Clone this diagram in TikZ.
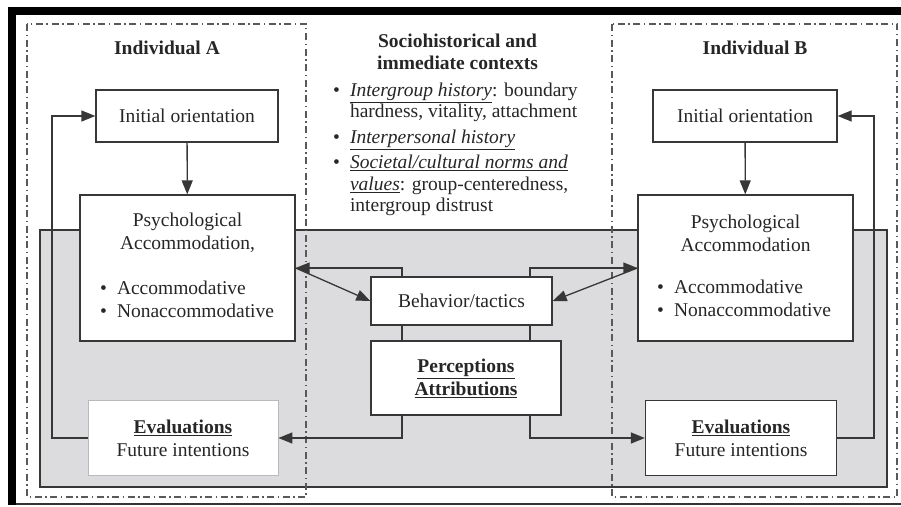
\documentclass[tikz,border=0pt]{standalone}
\usepackage{fontspec}
\setmainfont{Liberation Serif}
\usepackage{tikz}
\usetikzlibrary{positioning, arrows.meta}
\definecolor{panelgray}{RGB}{220,220,222}
\definecolor{linegray}{RGB}{55,55,55}
\newcommand{\heading}[1]{\underline{\textbf{#1}}}

\begin{document}
\begin{tikzpicture}[
				x=1pt, y=-1pt,
				>={Triangle[length=14pt,width=11pt]},
				node distance=558pt,
				font=\fontsize{19.5}{23}\selectfont,
				every node/.style={inner sep=0pt, text=black!85},
				box/.style={draw=linegray, line width=1.3pt, fill=white},
				person/.style={draw=black!65, line width=1.3pt, dash pattern=on 7pt off 3.5pt on 1.5pt off 3.5pt},
				link/.style={draw=linegray, line width=1.3pt}]

			% frame
			\useasboundingbox (0,0) rectangle (901,506);
			\fill[white] (0,0) rectangle (901,506);
			\fill[black] (8,7) rectangle (901,15);
			\fill[black] (8,7) rectangle (16,505);
			\draw[line width=2pt, black!80] (16,503.5) -- (901,503.5);

			% shared panel and the two individuals
			\draw[linegray, line width=1.3pt, fill=panelgray] (40,230) rectangle (887,487);
			\draw[person] (27,24) rectangle (306,497);
			\draw[person] (612,24) rectangle (897,497);

			\node[font=\fontsize{19.5}{23}\selectfont\bfseries] (title_a) at (167,48) {Individual A};
			\node[font=\fontsize{19.5}{23}\selectfont\bfseries] (title_b) at (755,48) {Individual B};
			\node[font=\fontsize{19.5}{22}\selectfont\bfseries, align=center] (context_title) at (457.5,52) {Sociohistorical and\\immediate contexts};
			\node[anchor=north west, font=\fontsize{19.5}{21.5}\selectfont] (context_list) at (333,81) {%
				\begin{tabular}{@{}l@{\hspace{10pt}}l@{}}
					\textbullet & \underline{\textit{Intergroup history}}: boundary\\
					& hardness, vitality, attachment\\[4pt]
					\textbullet & \underline{\textit{Interpersonal history}}\\[4pt]
					\textbullet & \underline{\textit{Societal/cultural norms and}}\\
					& \underline{\textit{values}}: group-centeredness,\\
					& intergroup distrust
				\end{tabular}};

			\node[box, minimum width=182pt, minimum height=52pt] (initial_a) at (187,116) {Initial orientation};
			\node[box, minimum width=215pt, minimum height=146pt] (psych_a) at (187.5,268) {};
			\node[box, draw=gray!55, line width=0.8pt, minimum width=190pt, minimum height=75pt, align=center] (eval_a) at (183,438) {\heading{Evaluations}\\Future intentions};

			\node[box, minimum width=184pt, minimum height=52pt, right of=initial_a] (initial_b) {Initial orientation};
			\node[box, minimum width=215pt, minimum height=146pt, right of=psych_a] (psych_b) {};
			\node[box, minimum width=191pt, minimum height=75pt, align=center, right of=eval_a] (eval_b) {\heading{Evaluations}\\Future intentions};

			\node[box, minimum width=181pt, minimum height=48pt] (behavior) at (461.5,301) {Behavior/tactics};
			\node[box, minimum width=190pt, minimum height=74pt, align=center] (perceptions) at (466,378) {\heading{Perceptions}\\\heading{Attributions}};

			\node[align=center] (psych_a_title) at (187.5,233) {Psychological\\Accommodation,};
			\node[anchor=west] (psych_a_list) at (100,301.5) {\begin{tabular}{@{}l@{\hspace{10pt}}l@{}}\textbullet & Accommodative\\\textbullet & Nonaccommodative\end{tabular}};
			\node[align=center] (psych_b_title) at (745.5,233) {Psychological\\Accommodation};
			\node[anchor=west] (psych_b_list) at (657,300.5) {\begin{tabular}{@{}l@{\hspace{10pt}}l@{}}\textbullet & Accommodative\\\textbullet & Nonaccommodative\end{tabular}};

			\coordinate (junction_l) at (402,268);
			\coordinate (junction_r) at (530,268);
			\coordinate (loop_a) at (52,116);
			\coordinate (loop_b) at (874,116);

			\draw[link, ->] (initial_a) -- (psych_a);
			\draw[link, ->] (initial_b) -- (psych_b);

			\draw[link, <-] (psych_a.east) -| (behavior.north -| junction_l);
			\draw[link, ->] (psych_a.east) -- (behavior.west);
			\draw[link] (behavior.south -| junction_l) -- (perceptions.north -| junction_l);
			\draw[link, ->] (perceptions.south -| junction_l) |- (eval_a.east);

			\draw[link, <-] (psych_b.west) -| (behavior.north -| junction_r);
			\draw[link, ->] (psych_b.west) -- (behavior.east);
			\draw[link] (behavior.south -| junction_r) -- (perceptions.north -| junction_r);
			\draw[link, ->] (perceptions.south -| junction_r) |- (eval_b.west);

			\draw[link, ->] (eval_a.west) -| (loop_a) -- (initial_a.west);
			\draw[link, ->] (eval_b.east) -| (loop_b) -- (initial_b.east);

		\end{tikzpicture}
\end{document}
